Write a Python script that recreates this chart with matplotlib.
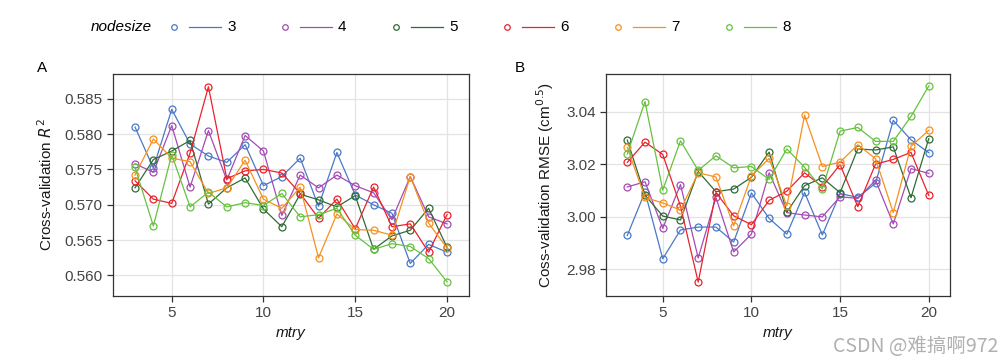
import matplotlib
matplotlib.use("Agg")
import matplotlib.pyplot as plt
from matplotlib.lines import Line2D

plt.rcParams["font.family"] = ["Liberation Sans", "DejaVu Sans"]

mtry = list(range(3, 21))
nodesizes = ["3", "4", "5", "6", "7", "8"]
colors = ["#4a78c8", "#a54bb5", "#2f6b36", "#e8232c", "#f7901e", "#66c23f"]

# cross-validation R^2, one list per nodesize
r2_3 = [0.5810, 0.5752, 0.5835, 0.5786, 0.5769, 0.5760, 0.5785, 0.5727, 0.5740,
        0.5766, 0.5698, 0.5774, 0.5714, 0.5700, 0.5688, 0.5617, 0.5644, 0.5633]
r2_4 = [0.5758, 0.5746, 0.5812, 0.5725, 0.5805, 0.5735, 0.5798, 0.5776, 0.5685,
        0.5742, 0.5724, 0.5742, 0.5727, 0.5717, 0.5679, 0.5740, 0.5683, 0.5673]
r2_5 = [0.5724, 0.5764, 0.5776, 0.5791, 0.5701, 0.5724, 0.5738, 0.5694, 0.5669,
        0.5715, 0.5707, 0.5697, 0.5713, 0.5637, 0.5656, 0.5664, 0.5695, 0.5640]
r2_6 = [0.5734, 0.5708, 0.5702, 0.5773, 0.5867, 0.5737, 0.5748, 0.5750, 0.5745,
        0.5716, 0.5681, 0.5708, 0.5666, 0.5725, 0.5669, 0.5673, 0.5633, 0.5686]
r2_7 = [0.5742, 0.5793, 0.5766, 0.5761, 0.5716, 0.5724, 0.5763, 0.5708, 0.5695,
        0.5725, 0.5625, 0.5687, 0.5665, 0.5664, 0.5657, 0.5740, 0.5674, 0.5639]
r2_8 = [0.5753, 0.5670, 0.5771, 0.5697, 0.5718, 0.5697, 0.5703, 0.5699, 0.5716,
        0.5683, 0.5686, 0.5695, 0.5657, 0.5637, 0.5645, 0.5641, 0.5624, 0.5591]

# cross-validation RMSE
rmse_3 = [2.9928, 3.0094, 2.9839, 2.9949, 2.9960, 2.9960, 2.9903, 3.0090, 2.9993,
          2.9933, 3.0092, 2.9930, 3.0088, 3.0073, 3.0127, 3.0367, 3.0293, 3.0244]
rmse_4 = [3.0113, 3.0133, 2.9955, 3.0122, 2.9842, 3.0073, 2.9865, 2.9933, 3.0167,
          3.0015, 3.0006, 2.9999, 3.0076, 3.0069, 3.0139, 2.9972, 3.0183, 3.0165]
rmse_5 = [3.0292, 3.0082, 3.0002, 2.9987, 3.0172, 3.0095, 3.0105, 3.0150, 3.0246,
          3.0017, 3.0118, 3.0148, 3.0091, 3.0258, 3.0254, 3.0266, 3.0072, 3.0297]
rmse_6 = [3.0207, 3.0284, 3.0237, 3.0040, 2.9750, 3.0092, 3.0003, 2.9969, 3.0062,
          3.0097, 3.0167, 3.0114, 3.0198, 3.0038, 3.0200, 3.0218, 3.0245, 3.0081]
rmse_7 = [3.0264, 3.0073, 3.0052, 3.0025, 3.0167, 3.0151, 2.9965, 3.0155, 3.0222,
          3.0041, 3.0387, 3.0191, 3.0208, 3.0274, 3.0221, 3.0015, 3.0268, 3.0329]
rmse_8 = [3.0239, 3.0439, 3.0101, 3.0289, 3.0176, 3.0232, 3.0186, 3.0191, 3.0142,
          3.0258, 3.0188, 3.0105, 3.0326, 3.0340, 3.0287, 3.0287, 3.0382, 3.0498]

r2_all = [r2_3, r2_4, r2_5, r2_6, r2_7, r2_8]
rmse_all = [rmse_3, rmse_4, rmse_5, rmse_6, rmse_7, rmse_8]

fig = plt.figure(figsize=(10.03, 3.64), dpi=100)
ax1 = fig.add_axes([113 / 1003, 68 / 364, 356 / 1003, 222 / 364])
ax2 = fig.add_axes([606 / 1003, 68 / 364, 344 / 1003, 222 / 364])


def style(ax):
    ax.set_facecolor("white")
    ax.grid(True, color="#e3e3e3", linewidth=0.9)
    ax.set_axisbelow(True)
    for s in ax.spines.values():
        s.set_color("#333333")
        s.set_linewidth(0.9)
    ax.tick_params(direction="out", length=4, width=0.9, color="#333333",
                   labelsize=11, labelcolor="#444444")
    ax.set_xlim(1.8, 21.2)
    ax.set_xticks([5, 10, 15, 20])
    ax.set_xlabel("mtry", style="italic", fontsize=11, color="#1a1a1a")


for vals, col in zip(r2_all, colors):
    ax1.plot(mtry, vals, color=col, linewidth=0.9, marker="o", markersize=5,
             markerfacecolor="none", markeredgewidth=0.9)
for vals, col in zip(rmse_all, colors):
    ax2.plot(mtry, vals, color=col, linewidth=0.9, marker="o", markersize=5,
             markerfacecolor="none", markeredgewidth=0.9)

style(ax1)
style(ax2)
ax1.set_ylim(0.5571, 0.5885)
ax1.set_yticks([0.560, 0.565, 0.570, 0.575, 0.580, 0.585])
ax1.set_yticklabels(["0.560", "0.565", "0.570", "0.575", "0.580", "0.585"])
ax1.set_ylabel("Cross-validation $\\it{R}^2$", fontsize=11, color="#1a1a1a",
               labelpad=7)

ax2.set_ylim(2.9697, 3.0544)
ax2.set_yticks([2.98, 3.00, 3.02, 3.04])
ax2.set_yticklabels(["2.98", "3.00", "3.02", "3.04"])
ax2.set_ylabel("Coss-validation RMSE (cm$^{0.5}$)", fontsize=11, color="#1a1a1a",
               labelpad=7)

fig.text(42 / 1003, 1 - 68 / 364, "A", fontsize=11, va="center", ha="center")
fig.text(520 / 1003, 1 - 68 / 364, "B", fontsize=11, va="center", ha="center")

# legend on top, drawn by hand: marker, short line, label
ly = 1 - 27 / 364
fig.text(91 / 1003, ly, "nodesize", style="italic", fontsize=11, va="center")
for i, (lab, col) in enumerate(zip(nodesizes, colors)):
    x0 = 174 + i * 111
    fig.add_artist(Line2D([x0 / 1003], [ly], marker="o", markersize=4,
                          markerfacecolor="none", markeredgecolor=col,
                          markeredgewidth=0.9, linestyle="none",
                          transform=fig.transFigure))
    fig.add_artist(Line2D([(x0 + 15) / 1003, (x0 + 47) / 1003], [ly, ly],
                          color=col, linewidth=0.9, transform=fig.transFigure))
    fig.text((x0 + 53) / 1003, ly, lab, fontsize=11, va="center")

fig.text(998 / 1003, 1 - 346 / 364, "CSDN @难搞啊972", fontsize=14,
         color="#b0b0b0", ha="right", va="center",
         family=["Noto Sans CJK SC", "DejaVu Sans"])

fig.savefig("out.png", dpi=100)
